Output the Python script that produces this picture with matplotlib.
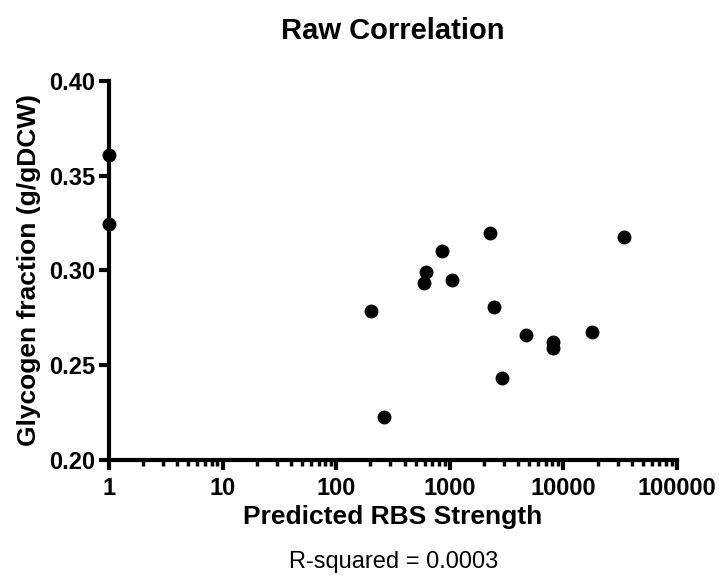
import numpy as np
import matplotlib.pyplot as plt
from matplotlib.ticker import LogLocator, FixedLocator

plt.rcParams['font.family'] = ['Liberation Sans', 'DejaVu Sans']

# Datos
rbs_strength = [1, 1, 201, 265, 598, 614, 848, 1045, 2275, 2467, 2900,
                4650, 8030, 8030, 17950, 34400]
glycogen = [0.361, 0.3245, 0.2785, 0.2227, 0.2936, 0.2992, 0.3103, 0.2948,
            0.320, 0.2806, 0.2433, 0.2658, 0.262, 0.259, 0.2674, 0.3177]

x_ticks = [1, 10, 100, 1000, 10000, 100000]
x_tick_labels = ["1", "10", "100", "1000", "10000", "100000"]
y_ticks = [0.20, 0.25, 0.30, 0.35, 0.40]
y_tick_labels = ["0.20", "0.25", "0.30", "0.35", "0.40"]

fig = plt.figure(figsize=(7.19, 5.77), dpi=100)
ax = fig.add_axes([0.1516, 0.2028, 0.79, 0.657])

ax.plot(rbs_strength, glycogen, 'o', color='black', markersize=9,
        clip_on=False, zorder=5)

ax.set_xscale('log')
ax.set_xlim(1, 100000)
ax.set_ylim(0.20, 0.40)

ax.xaxis.set_major_locator(FixedLocator(x_ticks))
ax.xaxis.set_minor_locator(LogLocator(base=10, subs=np.arange(2, 10)))
ax.set_xticks(x_ticks, x_tick_labels)
ax.set_yticks(y_ticks, y_tick_labels)
ax.yaxis.set_minor_locator(FixedLocator([]))

for side in ['top', 'right']:
    ax.spines[side].set_visible(False)
for side in ['left', 'bottom']:
    ax.spines[side].set_linewidth(3)

ax.tick_params(axis='both', which='major', length=7, width=3,
               labelsize=17, pad=3)
ax.tick_params(axis='x', which='major', pad=5)
ax.tick_params(axis='x', which='minor', length=4, width=2.5)
for lbl in ax.get_xticklabels() + ax.get_yticklabels():
    lbl.set_fontweight('bold')

ax.set_title("Raw Correlation", fontsize=21, fontweight='bold', pad=30)
ax.set_xlabel("Predicted RBS Strength", fontsize=19, fontweight='bold',
              labelpad=4)
ax.set_ylabel("Glycogen fraction (g/gDCW)", fontsize=19, fontweight='bold',
              labelpad=6)
fig.text(0.547, 1 - 568 / 577, "R-squared = 0.0003", fontsize=17,
         ha='center', va='baseline')

plt.savefig("out.png", dpi=100)
